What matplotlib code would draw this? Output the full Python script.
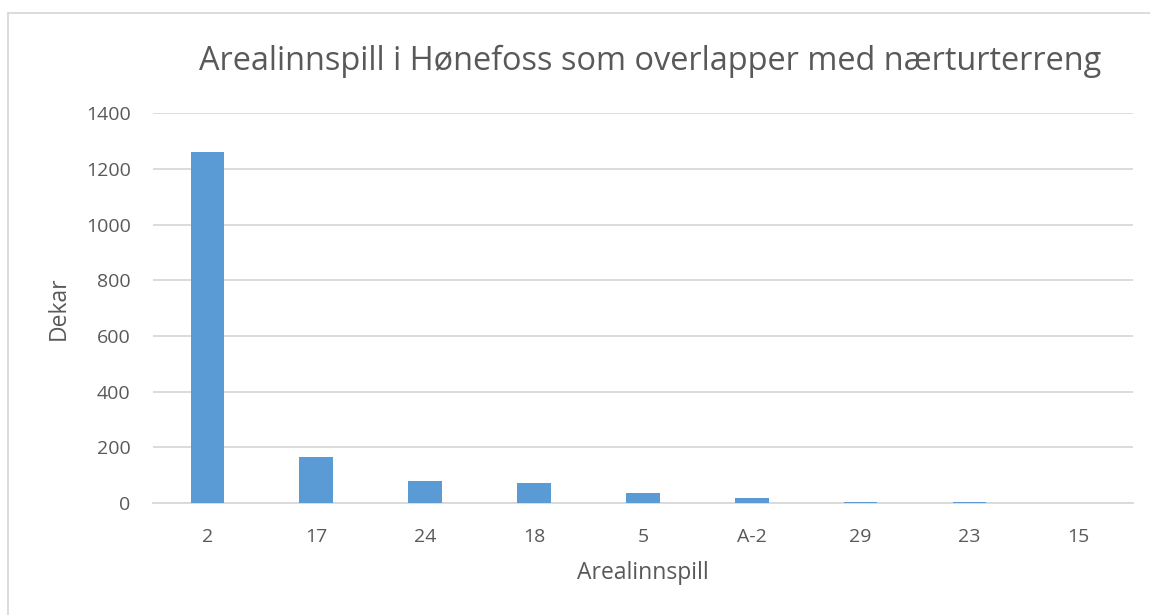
import matplotlib

matplotlib.use("Agg")
import matplotlib.pyplot as plt
from matplotlib.lines import Line2D

# ---------------------------------------------------------------------------
# Data
# ---------------------------------------------------------------------------

categories = ["2", "17", "24", "18", "5", "A-2", "29", "23", "15"]
dekar = [1260, 166, 81, 73, 35, 17, 5, 3, 1]
y_ticks = [0, 200, 400, 600, 800, 1000, 1200, 1400]

BAR_COLOR = "#5B9BD5"
TEXT_COLOR = "#595959"
GRID_COLOR = "#D9D9D9"

plt.rcParams["font.family"] = ["Open Sans", "DejaVu Sans"]

fig = plt.figure(figsize=(11.5, 6.15), dpi=100)
ax = fig.add_axes([0.133, 0.182, 0.852, 0.634])

x = range(len(categories))
ax.bar(x, dekar, width=0.31, color=BAR_COLOR, zorder=3)

ax.set_xlim(-0.5, len(categories) - 0.5)
ax.set_ylim(0, 1400)
ax.set_yticks(y_ticks)
ax.set_xticks(list(x))
ax.set_xticklabels(categories)

ax.grid(axis="y", color=GRID_COLOR, linewidth=1.3, zorder=0)
for side in ["top", "right", "left"]:
    ax.spines[side].set_visible(False)
ax.spines["bottom"].set_color(GRID_COLOR)
ax.spines["bottom"].set_linewidth(1.3)
ax.tick_params(axis="both", length=0, labelsize=14, colors=TEXT_COLOR)
ax.tick_params(axis="y", pad=16)
ax.tick_params(axis="x", pad=18)

ax.set_xlabel("Arealinnspill", fontsize=16.5, color=TEXT_COLOR, labelpad=11)
ax.set_ylabel("Dekar", fontsize=16.5, color=TEXT_COLOR, labelpad=11)

fig.text(0.565, 0.9, "Arealinnspill i Hønefoss som overlapper med nærturterreng",
         ha="center", va="center", fontsize=23.4, color=TEXT_COLOR)

# chart frame (top and left edges visible)
fig.add_artist(Line2D([0.007, 1.0], [0.979, 0.979], color=GRID_COLOR, linewidth=1.3,
                      transform=fig.transFigure))
fig.add_artist(Line2D([0.007, 0.007], [0.0, 0.979], color=GRID_COLOR, linewidth=1.3,
                      transform=fig.transFigure))

fig.savefig("out.png", dpi=100)
plt.close(fig)
